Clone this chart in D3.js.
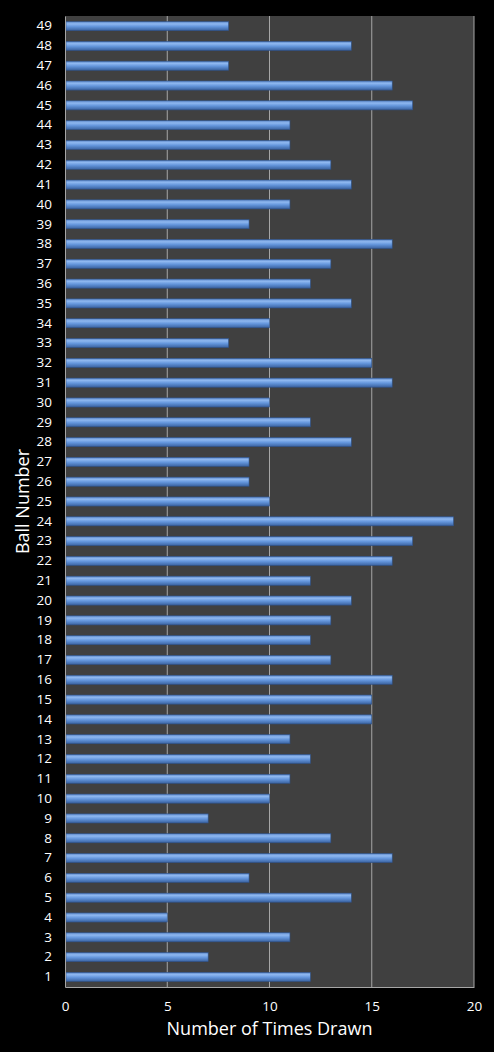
<!DOCTYPE html>
<html>
<head>
<meta charset="utf-8">
<script src="https://cdn.jsdelivr.net/npm/d3@7"></script>
<style>
  body { margin: 0; background: #000; }
  svg { display: block; }
  text { font-family: "Open Sans", "Noto Sans", sans-serif; fill: #fff; }
</style>
</head>
<body>
<div id="chart"></div>
<script>
// ball numbers 1..49 and how often each was drawn
var balls = ["1","2","3","4","5","6","7","8","9","10","11","12","13","14","15","16","17","18","19","20",
             "21","22","23","24","25","26","27","28","29","30","31","32","33","34","35","36","37","38","39","40",
             "41","42","43","44","45","46","47","48","49"];
var timesDrawn = [12,7,11,5,14,9,16,13,7,10,11,12,11,15,15,16,13,12,13,14,
                  12,16,17,19,10,9,9,14,12,10,16,15,8,10,14,12,13,16,9,11,
                  14,13,11,11,17,16,8,14,8];
var xTicks = [0, 5, 10, 15, 20];

var outWidth = 494, outHeight = 1052;
var margin = {top: 16, right: 20, bottom: 65, left: 65},
    width = outWidth - margin.left - margin.right,
    height = outHeight - margin.top - margin.bottom;

var svg = d3.select("#chart").append("svg")
    .attr("width", outWidth)
    .attr("height", outHeight);

// bar gradient, looks like the excel bevel
var defs = svg.append("defs");
var grad = defs.append("linearGradient")
    .attr("id", "barGrad")
    .attr("x1", 0).attr("y1", 0).attr("x2", 0).attr("y2", 1);
grad.append("stop").attr("offset", "0%").attr("stop-color", "#5a86c8");
grad.append("stop").attr("offset", "25%").attr("stop-color", "#8fb8f0");
grad.append("stop").attr("offset", "55%").attr("stop-color", "#6496dc");
grad.append("stop").attr("offset", "100%").attr("stop-color", "#3a62a0");

var g = svg.append("g")
    .attr("transform", "translate(" + margin.left + "," + margin.top + ")");

var xScale = d3.scaleLinear().domain([0, 20]).range([0, width]);
var yScale = d3.scaleBand().domain(balls).range([height, 0]).paddingInner(0.54).paddingOuter(0.28);

// plot area
g.append("rect")
    .attr("width", width)
    .attr("height", height)
    .attr("fill", "#404040");

// gridlines
g.selectAll(".grid")
    .data(xTicks.slice(1, -1))
    .enter().append("line")
    .attr("x1", function(d) { return xScale(d); })
    .attr("x2", function(d) { return xScale(d); })
    .attr("y1", 0)
    .attr("y2", height)
    .attr("stroke", "#a6a6a6")
    .attr("stroke-width", 1);

// bars
g.selectAll(".bar")
    .data(timesDrawn)
    .enter().append("rect")
    .attr("class", "bar")
    .attr("x", 1)
    .attr("y", function(d, i) { return yScale(balls[i]); })
    .attr("width", function(d) { return xScale(d) - 1; })
    .attr("height", yScale.bandwidth())
    .attr("fill", "url(#barGrad)")
    .attr("stroke", "#2f5288")
    .attr("stroke-width", 0.6);

// axes
var xAxis = d3.axisBottom(xScale).tickValues(xTicks).tickSize(0).tickPadding(14);
var yAxis = d3.axisLeft(yScale).tickSize(0).tickPadding(13);

var xg = g.append("g")
    .attr("transform", "translate(0," + height + ")")
    .call(xAxis);
xg.select(".domain").attr("stroke", "#a6a6a6");
xg.selectAll("text").style("font-size", "13.5px").attr("fill", "#fff");

var yg = g.append("g").call(yAxis);
yg.select(".domain").attr("stroke", "#a6a6a6");
yg.selectAll("text").style("font-size", "13.5px").attr("fill", "#fff");

// right border line of plot
g.append("line")
    .attr("x1", width).attr("x2", width).attr("y1", 0).attr("y2", height)
    .attr("stroke", "#a6a6a6");

// axis titles
svg.append("text")
    .attr("x", margin.left + width / 2)
    .attr("y", 1035)
    .attr("text-anchor", "middle")
    .style("font-size", "18px")
    .text("Number of Times Drawn");

svg.append("text")
    .attr("transform", "translate(29," + (margin.top + height / 2) + ") rotate(-90)")
    .attr("text-anchor", "middle")
    .style("font-size", "18px")
    .text("Ball Number");
</script>
</body>
</html>
